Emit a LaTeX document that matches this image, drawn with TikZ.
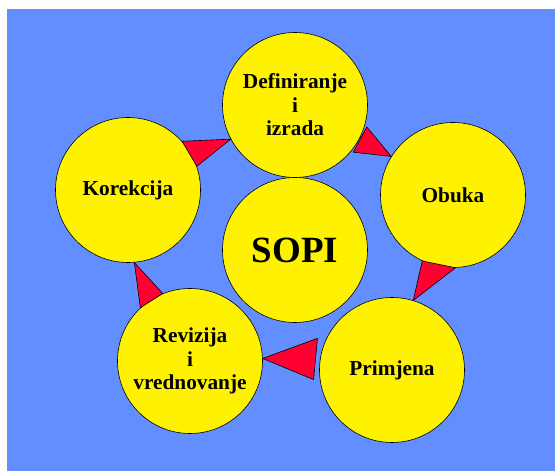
\documentclass[tikz,border=0pt]{standalone}
\usepackage{fontspec}
\setmainfont{Liberation Serif}
\definecolor{bgblue}{RGB}{98,142,255}
\definecolor{wedgered}{RGB}{255,0,51}
\tikzset{
	phase/.style={circle, draw, fill=yellow, minimum size=145pt, inner sep=0pt, align=center, font=\fontsize{21.3}{23.5}\selectfont\bfseries},
	wedge/.style={draw, fill=wedgered, line join=round}
}

\begin{document}
\begin{tikzpicture}[x=1pt, y=1pt, line width=0.6pt]
	\useasboundingbox (0,0) rectangle (555,471);
	\fill[bgblue] (7,0) rectangle (555,462);
	% the five phases and the centre
	\node[phase] (d) at (295,366) {Definiranje\\i\\izrada};
	\node[phase] (o) at (453,276) {Obuka};
	\node[phase] (p) at (392,101) {Primjena};
	\node[phase] (r) at (190,110) {Revizija\\i\\vrednovanje};
	\node[phase] (k) at (128,281) {Korekcija};
	\node[phase, font=\fontsize{37}{40}\selectfont\bfseries] (s) at (295,221) {SOPI};
	% arrow wedges, clockwise
	\filldraw[wedge] (k.42) -- (d.208) -- (k.19) -- cycle;
	\filldraw[wedge] ([shift={(-39:75pt)}]d.center) -- (o.148) -- ([shift={(-17:75pt)}]d.center) -- cycle;
	\filldraw[wedge] (o.245) -- (p.73) -- (o.272) -- cycle;
	\filldraw[wedge] ([shift={(157:81pt)}]p.center) -- (r.2) -- ([shift={(187:79pt)}]p.center) -- cycle;
	\filldraw[wedge] (r.112) -- (k.275) -- (r.133) -- cycle;
\end{tikzpicture}
\end{document}
